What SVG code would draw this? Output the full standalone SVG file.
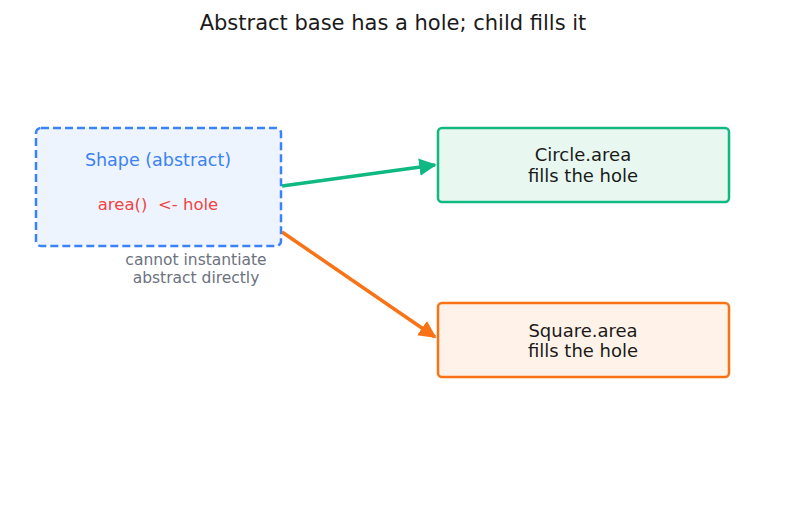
<svg xmlns="http://www.w3.org/2000/svg" width="787" height="508" viewBox="0 0 787 508">
  <style>
    text { font-family: "DejaVu Sans", "Liberation Sans", sans-serif; text-anchor: middle; }
    .title { font-size: 21px; fill: #1a1a1a; }
    .lbl { font-size: 18px; fill: #1a1a1a; }
    .note { font-size: 15.5px; fill: #6b7280; }
    .box { stroke-width: 2.5; }
  </style>
  <defs>
    <marker id="arrGreen" viewBox="0 0 10 10" refX="9" refY="5" markerWidth="5" markerHeight="5" markerUnits="strokeWidth" orient="auto">
      <path d="M0,0 L10,5 L0,10 z" fill="#10b981"/>
    </marker>
    <marker id="arrOrange" viewBox="0 0 10 10" refX="9" refY="5" markerWidth="5" markerHeight="5" markerUnits="strokeWidth" orient="auto">
      <path d="M0,0 L10,5 L0,10 z" fill="#f97316"/>
    </marker>
  </defs>
  <rect width="787" height="508" fill="#ffffff"/>
  <text class="title" x="393" y="30">Abstract base has a hole; child fills it</text>

  <g id="connectors" fill="none" stroke-width="3.5">
    <line x1="282" y1="186" x2="435" y2="165" stroke="#10b981" marker-end="url(#arrGreen)"/>
    <line x1="282" y1="232" x2="435" y2="337" stroke="#f97316" marker-end="url(#arrOrange)"/>
  </g>

  <g id="shape">
    <rect class="box" x="36" y="128" width="245" height="118" rx="5" fill="#eef4fe" stroke="#3b82f6" stroke-dasharray="8,4"/>
    <text x="158" y="166" style="font-size:17.5px" fill="#3b82f6">Shape (abstract)</text>
    <text x="158" y="210" style="font-size:16.5px; white-space:pre" fill="#ef4444" xml:space="preserve">area()  &lt;- hole</text>
    <text class="note" x="196" y="265">cannot instantiate</text>
    <text class="note" x="196" y="283">abstract directly</text>
  </g>

  <g id="circle">
    <rect class="box" x="438" y="128" width="291" height="74" rx="4" fill="#e8f8f0" stroke="#10b981"/>
    <text class="lbl" x="583" y="161">Circle.area</text>
    <text class="lbl" x="583" y="182">fills the hole</text>
  </g>

  <g id="square">
    <rect class="box" x="438" y="303" width="291" height="74" rx="4" fill="#fff3e9" stroke="#f97316"/>
    <text class="lbl" x="583" y="337">Square.area</text>
    <text class="lbl" x="583" y="357">fills the hole</text>
  </g>
</svg>
